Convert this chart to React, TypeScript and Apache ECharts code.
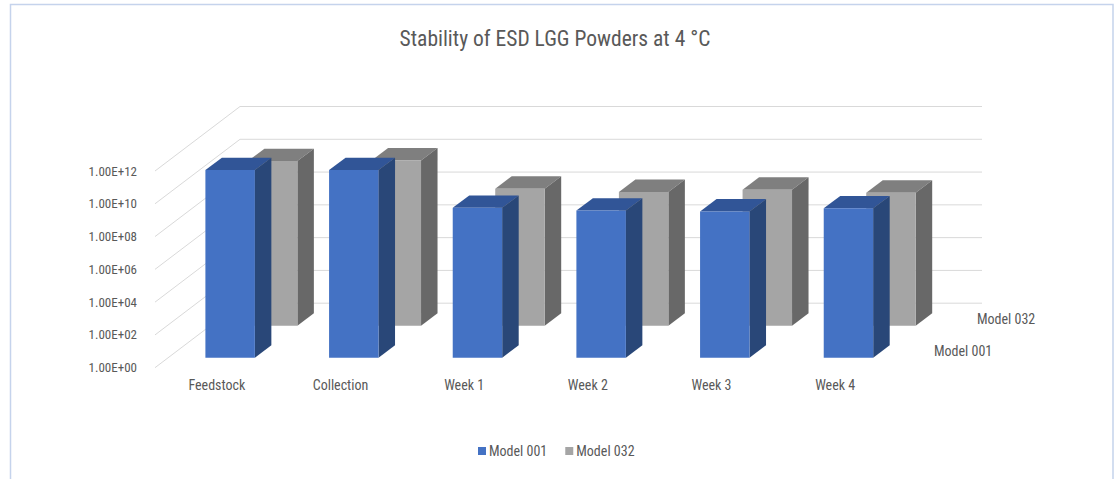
import React, { useEffect, useRef } from "react";
import * as echarts from "echarts";

const categories = ["Feedstock", "Collection", "Week 1", "Week 2", "Week 3", "Week 4"];
const model001 = [2.8e11, 2.8e11, 1.4e9, 9.5e8, 8.3e8, 1.3e9];
const model032 = [1.1e10, 1.2e10, 2.3e8, 1.45e8, 2.0e8, 1.3e8];
const tickValues = [1, 1e2, 1e4, 1e6, 1e8, 1e10, 1e12];
const title = "Stability of ESD LGG Powders at 4 °C";
const seriesNames = ["Model 001", "Model 032"];

const FONT = '"Liberation Sans Narrow", "Roboto Condensed", Roboto, sans-serif';
const TEXT = "#595959";
const WALL_DX = 85;
const WALL_DY = -64.5;
const BAR_DX = 16.5;
const BAR_DY = -12.4;

function formatTick(v: number) {
  const e = Math.round(Math.log10(v));
  return "1.00E+" + String(e).padStart(2, "0");
}

function barRenderer(offsetX: number, offsetY: number, front: string, top: string, side: string) {
  return (params: any, api: any) => {
    const i = api.value(0);
    const v = api.value(1);
    const cs = params.coordSys;
    const w = (cs.width / categories.length) * 0.4;
    const tp = api.coord([i, v]);
    const bt = api.coord([i, 1]);
    const xl = tp[0] + offsetX - w / 2;
    const xr = xl + w;
    const yt = tp[1] + offsetY;
    const yb = bt[1] + offsetY;
    return {
      type: "group",
      silent: true,
      children: [
        {
          type: "polygon",
          shape: { points: [[xl, yt], [xr, yt], [xr + BAR_DX, yt + BAR_DY], [xl + BAR_DX, yt + BAR_DY]] },
          style: { fill: top },
        },
        {
          type: "polygon",
          shape: { points: [[xr, yt], [xr + BAR_DX, yt + BAR_DY], [xr + BAR_DX, yb + BAR_DY], [xr, yb]] },
          style: { fill: side },
        },
        { type: "rect", shape: { x: xl, y: yt, width: w, height: yb - yt }, style: { fill: front } },
      ],
    };
  };
}

function gridRenderer(params: any, api: any) {
  const v = api.value(0);
  const cs = params.coordSys;
  const y = api.coord([0, v])[1];
  const x0 = cs.x;
  const x1 = cs.x + WALL_DX;
  const x2 = cs.x + cs.width + WALL_DX;
  const style = { stroke: "#d9d9d9", lineWidth: 1, fill: "none" };
  return {
    type: "polyline",
    silent: true,
    shape: { points: [[x0, y], [x1, y + WALL_DY], [x2, y + WALL_DY]] },
    style,
  };
}

export default function App() {
  const ref = useRef<HTMLDivElement>(null);
  useEffect(() => {
    document.body.style.margin = "0";
    const chart = echarts.init(ref.current!, undefined, { renderer: "svg" });
    chart.setOption({
      animation: false,
      backgroundColor: "#ffffff",
      textStyle: { fontFamily: FONT },
      title: {
        text: title,
        left: 550,
        top: 22,
        textAlign: "center",
        textStyle: { fontFamily: FONT, fontSize: 21.5, fontWeight: "normal", color: TEXT },
      },
      grid: { left: 155, top: 171, width: 742, height: 196.7, containLabel: false },
      legend: {
        data: [
          { name: seriesNames[0], icon: "rect" },
          { name: seriesNames[1], icon: "rect" },
        ],
        left: 473,
        top: 439,
        itemWidth: 8,
        itemHeight: 8,
        itemGap: 18,
        selectedMode: false,
        textStyle: { fontFamily: FONT, fontSize: 14, color: TEXT, padding: [0, 0, 0, -2] },
      },
      xAxis: {
        type: "category",
        data: categories,
        axisLine: { show: false },
        axisTick: { show: false },
        splitLine: { show: false },
        axisLabel: { fontFamily: FONT, fontSize: 14, color: TEXT, margin: 10, interval: 0 },
      },
      yAxis: {
        type: "log",
        logBase: 100,
        min: 1,
        max: 1e12,
        axisLine: { show: false },
        axisTick: { show: false },
        splitLine: { show: false },
        minorSplitLine: { show: false },
        axisLabel: {
          fontFamily: FONT,
          fontSize: 13,
          color: TEXT,
          margin: 18,
          padding: [0, 0, 4, 0],
          formatter: formatTick,
        },
      },
      series: [
        {
          type: "custom",
          name: "Gridlines",
          z: 1,
          data: tickValues.map((v) => [v]),
          encode: { y: 0 },
          renderItem: gridRenderer,
        },
        {
          type: "custom",
          name: seriesNames[1],
          z: 2,
          itemStyle: { color: "#A5A5A5" },
          data: categories.map((_, i) => [i, model032[i]]),
          encode: { x: 0, y: 1 },
          renderItem: barRenderer(55.8, -42, "#A5A5A5", "#7F7F7F", "#686868"),
        },
        {
          type: "custom",
          name: seriesNames[0],
          z: 3,
          itemStyle: { color: "#4472C4" },
          data: categories.map((_, i) => [i, model001[i]]),
          encode: { x: 0, y: 1 },
          renderItem: barRenderer(13.3, -10, "#4472C4", "#315597", "#294778"),
        },
      ],
      graphic: [
        {
          type: "polyline",
          silent: true,
          shape: { points: [[10.5, 479], [10.5, 4.5], [1113, 4.5], [1113, 479]] },
          style: { stroke: "#c5d3ec", lineWidth: 1.5, fill: "none" },
        },
        {
          type: "text",
          x: 934,
          y: 351,
          style: { text: seriesNames[0], font: `14px ${FONT}`, fill: TEXT, textVerticalAlign: "middle" },
        },
        {
          type: "text",
          x: 977,
          y: 319,
          style: { text: seriesNames[1], font: `14px ${FONT}`, fill: TEXT, textVerticalAlign: "middle" },
        },
      ],
    });
    return () => chart.dispose();
  }, []);
  return <div ref={ref} style={{ width: 1115, height: 479 }} />;
}
